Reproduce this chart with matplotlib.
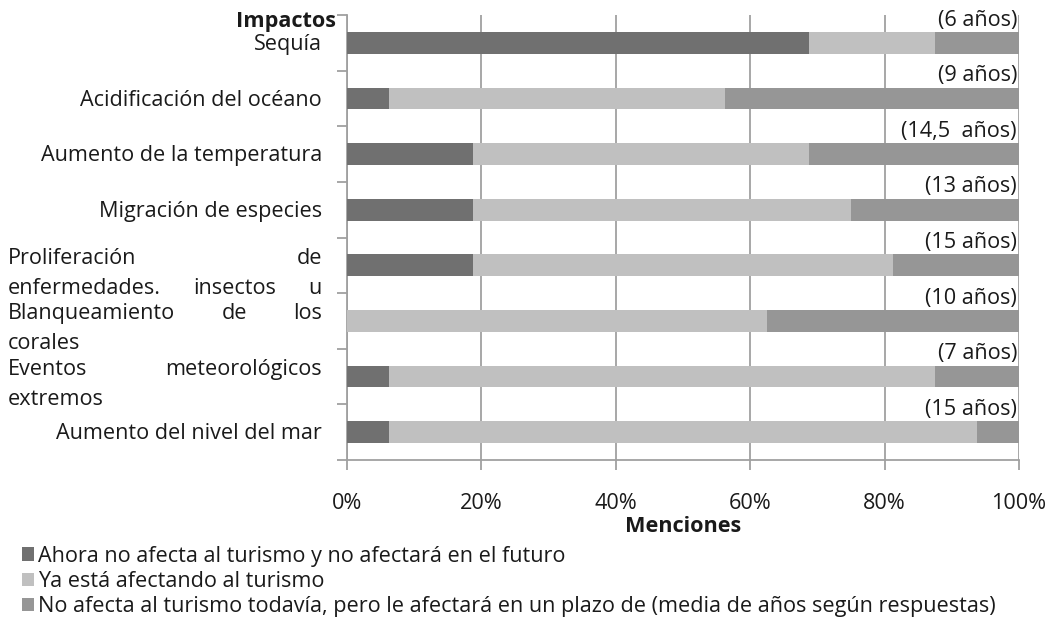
import matplotlib
matplotlib.use("Agg")
import matplotlib.pyplot as plt
from matplotlib.transforms import blended_transform_factory
from matplotlib.patches import Patch

plt.rcParams['font.family'] = ['Open Sans', 'DejaVu Sans']

# datos (% de menciones, 16 respuestas)
impactos = ['Sequía', 'Acidificación del océano', 'Aumento de la temperatura',
            'Migración de especies', 'Proliferación de enfermedades. insectos u',
            'Blanqueamiento de los corales', 'Eventos meteorológicos extremos',
            'Aumento del nivel del mar']
no_afecta = [68.75, 6.25, 18.75, 18.75, 18.75, 0.0, 6.25, 6.25]
ya_afecta = [18.75, 50.0, 50.0, 56.25, 62.5, 62.5, 81.25, 87.5]
afectara = [12.5, 43.75, 31.25, 25.0, 18.75, 37.5, 12.5, 6.25]
plazos = ['(6 años)', '(9 años)', '(14,5  años)', '(13 años)', '(15 años)',
          '(10 años)', '(7 años)', '(15 años)']

# etiquetas largas que salen justificadas en dos lineas
lineas_just = {
    4: [['Proliferación', 'de'], ['enfermedades.', 'insectos', 'u']],
    5: [['Blanqueamiento', 'de', 'los'], ['corales']],
    6: [['Eventos', 'meteorológicos'], ['extremos']],
}

leyenda = ['Ahora no afecta al turismo y no afectará en el futuro',
           'Ya está afectando al turismo',
           'No afecta al turismo todavía, pero le afectará en un plazo de (media de años según respuestas)']
colores = ['#707070', '#c0c0c0', '#969696']

W, H = 1058, 632
FS = 15.6


def texto_justificado(fig, ax, words, y, x0, x1, last=False):
    tr = blended_transform_factory(fig.transFigure, ax.transData)
    arts = [ax.text(x0 / W, y, w, transform=tr, ha='left', va='center', fontsize=FS, color='#1a1a1a')
            for w in words]
    if last or len(words) == 1:
        return
    fig.canvas.draw()
    r = fig.canvas.get_renderer()
    widths = [a.get_window_extent(r).width for a in arts]
    gap = ((x1 - x0) - sum(widths)) / (len(words) - 1)
    x = x0
    for a, w in zip(arts, widths):
        a.set_x(x / W)
        x += w + gap


def main():
    fig = plt.figure(figsize=(W / 100, H / 100), dpi=100)
    ax = fig.add_axes([347 / W, 1 - 460 / H, (1019 - 347) / W, (460 - 15) / H])

    n = len(impactos)
    pos = list(range(n))
    alto = 0.39

    left = [0] * n
    for vals, c in zip([no_afecta, ya_afecta, afectara], colores):
        ax.barh(pos, vals, left=left, height=alto, color=c, zorder=3)
        left = [l + v for l, v in zip(left, vals)]

    for i, p in enumerate(plazos):
        ax.annotate(p, xy=(100, i - alto / 2), xytext=(-1.5, 1), textcoords='offset points',
                    ha='right', va='bottom', fontsize=FS, color='#1a1a1a', zorder=4)

    ax.set_xlim(0, 100)
    ax.set_ylim(n - 0.5, -0.5)
    ax.set_xticks([0, 20, 40, 60, 80, 100])
    ax.set_xticklabels(['0%', '20%', '40%', '60%', '80%', '100%'], fontsize=FS, color='#1a1a1a')
    ax.set_yticks([i - 0.5 for i in range(n + 1)])
    ax.set_yticklabels([])
    ax.tick_params(axis='y', length=7, width=1.3, color='#a0a0a0')
    ax.tick_params(axis='x', length=7, width=1.3, color='#a0a0a0', pad=17)
    ax.grid(axis='x', color='#a0a0a0', linewidth=1.3, zorder=0)
    for s in ['top', 'right']:
        ax.spines[s].set_visible(False)
    for s in ['left', 'bottom']:
        ax.spines[s].set_color('#a0a0a0')
        ax.spines[s].set_linewidth(1.3)

    # etiquetas de categorias
    tr = blended_transform_factory(fig.transFigure, ax.transData)
    for i, lab in enumerate(impactos):
        if i in lineas_just:
            l1, l2 = lineas_just[i]
            texto_justificado(fig, ax, l1, i - 0.13, 8, 322)
            texto_justificado(fig, ax, l2, i + 0.41, 8, 322, last=(len(l2) == 1))
        else:
            ax.text(322 / W, i + 0.03, lab, transform=tr, ha='right', va='center',
                    fontsize=FS, color='#1a1a1a')

    fig.text(336 / W, 1 - 22 / H, 'Impactos', ha='right', va='center', fontsize=FS,
             fontweight='bold', color='#1a1a1a')
    fig.text(683 / W, 1 - 526 / H, 'Menciones', ha='center', va='center', fontsize=FS,
             fontweight='bold', color='#1a1a1a')

    handles = [Patch(facecolor=c) for c in colores]
    fig.legend(handles, leyenda, loc='upper left', bbox_to_anchor=(13 / W, 1 - 537 / H),
               frameon=False, fontsize=FS, handlelength=0.55, handleheight=0.55,
               handletextpad=0.2, labelspacing=0.2, borderaxespad=0, labelcolor='#1a1a1a')

    fig.savefig('out.png', dpi=100)


if __name__ == "__main__":
    main()
